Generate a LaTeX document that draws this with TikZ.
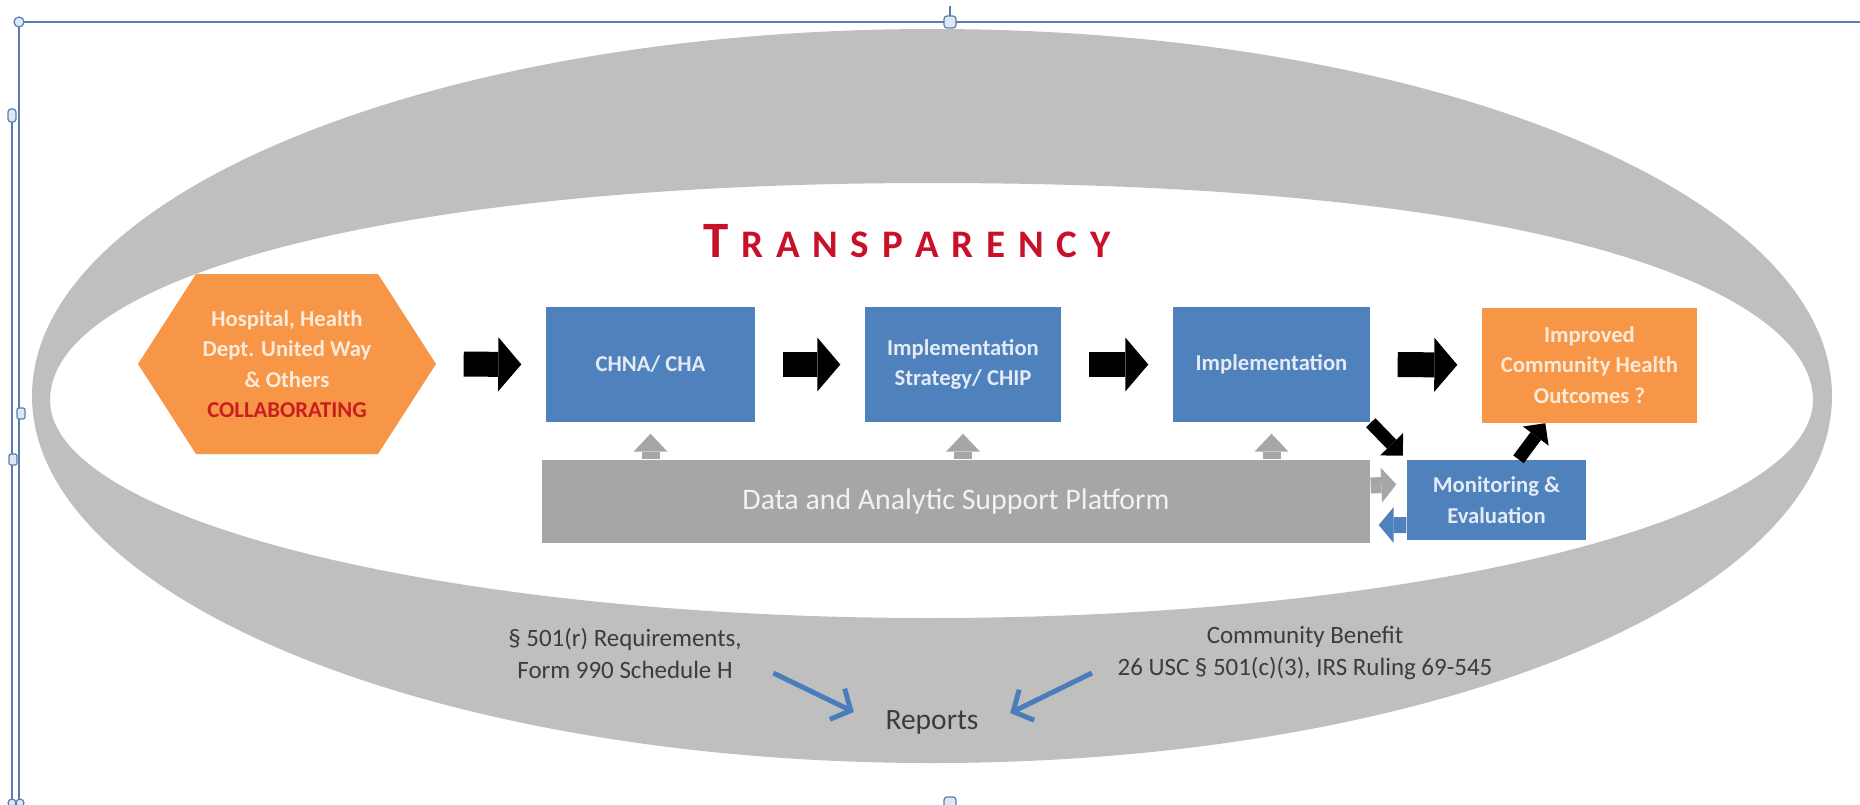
\documentclass[tikz,border=0pt]{standalone}
\usepackage{fontspec}
\setmainfont{Carlito}
\usetikzlibrary{arrows.meta,calc}
\definecolor{ringgray}{HTML}{BFBFBF}
\definecolor{platgray}{HTML}{A6A6A6}
\definecolor{boxblue}{HTML}{4F81BD}
\definecolor{orng}{HTML}{F79646}
\definecolor{cream}{HTML}{FDEADA}
\definecolor{paleblue}{HTML}{E4EBF5}
\definecolor{collred}{RGB}{200,30,30}
\definecolor{transred}{RGB}{200,16,40}
\definecolor{darktext}{HTML}{3C3C3C}
\definecolor{arrowblue}{HTML}{4A7EBB}
\definecolor{framecol}{HTML}{5A7DB0}
\definecolor{handlefill}{HTML}{DDE8F4}
\newcommand{\trsp}{\hspace{1.27mm}}
\begin{document}
\begin{tikzpicture}[x=0.1mm,y=-0.1mm,
  boxtext/.style={font=\fontsize{6.45}{8.7}\selectfont\bfseries, align=center},
  bluebox/.style={fill=boxblue, text=paleblue, inner sep=0pt, boxtext},
  orangebox/.style={fill=orng, text=cream, inner sep=0pt, boxtext},
  blockarrow/.style={draw=black, line width=2.5mm, -{Triangle[length=2.3mm,width=5.4mm,line width=0pt]}, shorten <=2.7mm, shorten >=2.4mm},
  blockdiag/.style={draw=black, line width=1.3mm, -{Triangle[length=1.6mm,width=3.2mm,line width=0pt]}},
  grayup/.style={draw=platgray, line width=1.8mm, -{Triangle[length=1.8mm,width=3.4mm,line width=0pt]}, shorten >=1.1mm},
  grayright/.style={draw=platgray, line width=1.6mm, -{Triangle[length=1.5mm,width=3.5mm,line width=0pt]}, shorten >=1mm},
  blueleft/.style={draw=boxblue, line width=1.6mm, -{Triangle[length=1.5mm,width=3.6mm,line width=0pt]}, shorten >=0.8mm},
  bluearrow/.style={draw=arrowblue, line width=0.5mm, -{Straight Barb[length=1.5mm,width=3.4mm]}},
  bottomtext/.style={font=\fontsize{7.1}{9.1}\selectfont, text=darktext, align=center, inner sep=0pt},
  frame/.style={draw=framecol, line width=0.2mm},
  handle/.style={draw=framecol, fill=handlefill, line width=0.12mm}
]
\useasboundingbox (0,0) rectangle (1860,804);
\fill[white] (0,0) rectangle (1860,804);

% gray ring: outer ellipse minus a flattened inner oval
\fill[ringgray, even odd rule] (932,396) ellipse [x radius=900, y radius=367]
  (50,400) .. controls (50,280) and (381,183) .. (931,183)
           .. controls (1581,183) and (1813,300) .. (1813,400)
           .. controls (1813,520) and (1417,618) .. (931,618)
           .. controls (445,618) and (50,520) .. (50,400) -- cycle;

% title
\node[anchor=base, text=transred, font=\bfseries, inner sep=0pt] (title) at (907,257)
  {\fontsize{14.5}{15}\selectfont T\trsp\fontsize{11.1}{12}\selectfont R\trsp A\trsp N\trsp S\trsp P\trsp A\trsp R\trsp E\trsp N\trsp C\trsp Y};

% hexagon
\fill[orng] (138,364) -- (196,274) -- (378,274) -- (436,364) -- (378,454) -- (196,454) -- cycle;
\node[text=cream, boxtext, inner sep=0pt, minimum width=29.8mm, minimum height=18mm] (hex) at (287,364)
  {Hospital, Health\\Dept. United Way\\\& Others\\{\color{collred}COLLABORATING}};

% process boxes
\node[bluebox, minimum width=20.9mm, minimum height=11.5mm] (chna) at (650.5,364.5) {CHNA/ CHA};
\node[bluebox, minimum width=19.6mm, minimum height=11.5mm] (strat) at (963,364.5) {Implementation\\Strategy/ CHIP};
\node[bluebox, minimum width=19.7mm, minimum height=11.5mm] (impl) at (1271.5,364.5) {Implementation};
\node[orangebox, minimum width=21.5mm, minimum height=11.5mm] (imp) at (1589.5,365) {Improved\\Community Health\\Outcomes ?};
\node[bluebox, minimum width=17.9mm, minimum height=8mm] (mon) at (1496.5,500) {Monitoring \&\\Evaluation};
\node[fill=platgray, text=white!95!black, inner sep=0pt, minimum width=82.8mm, minimum height=8.3mm,
      font=\fontsize{8.5}{10}\selectfont] (plat) at (956,501.5) {Data and Analytic Support Platform};

% block arrows
\draw[blockarrow] (hex.east) -- (chna.west);
\draw[blockarrow] (chna.east) -- (strat.west);
\draw[blockarrow] (strat.east) -- (impl.west);
\draw[blockarrow] (impl.east) -- (imp.west);
\draw[blockdiag, shorten >=0.5mm] (impl.south east) -- (mon.north west);
\draw[blockdiag] ([xshift=2.2mm]mon.north) -- ([xshift=6.4mm]imp.south west);

% platform arrows
\draw[grayup] (chna.south |- plat.north) -- (chna.south);
\draw[grayup] (strat.south |- plat.north) -- (strat.south);
\draw[grayup] (impl.south |- plat.north) -- (impl.south);
\draw[grayright] ([yshift=1.6mm]plat.east) -- ([yshift=1.6mm]mon.west);
\draw[blueleft] ([yshift=-2.5mm]mon.west) -- ([yshift=-2.35mm]plat.east);

% bottom texts
\node[bottomtext] (lreq) at (625,653) {§ 501(r) Requirements,\\Form 990 Schedule H};
\node[bottomtext] (rreq) at (1305,653) {Community Benefit\\26 USC § 501(c)(3), IRS Ruling 69-545};
\node[font=\fontsize{8.4}{10}\selectfont, text=darktext, inner sep=0pt] (reports) at (932,722) {Reports};
\draw[bluearrow] ($(lreq.east)+(31,20)$) -- ($(reports.west)+(-31,-10)$);
\draw[bluearrow] ($(rreq.west)+(-25,20)$) -- ($(reports.east)+(31,-9)$);

% selection frame
\draw[frame] (19,22) -- (1860,22);
\draw[frame] (19,22) -- (19,804);
\draw[frame] (12,115) -- (12,804);
\draw[frame] (950,6) -- (950,17);
\draw[handle, rounded corners=0.3mm] (944,16) rectangle (956,28);
\draw[handle] (19,22) circle [radius=5];
\draw[handle, rounded corners=0.3mm] (8,109) rectangle (16,122);
\draw[handle, rounded corners=0.2mm] (17,408) rectangle (25,419);
\draw[handle, rounded corners=0.2mm] (9,454) rectangle (17,465);
\draw[handle] (12,803) circle [radius=4];
\draw[handle] (20,803) circle [radius=4];
\draw[handle, rounded corners=0.3mm] (944,797) rectangle (956,809);
\end{tikzpicture}
\end{document}
